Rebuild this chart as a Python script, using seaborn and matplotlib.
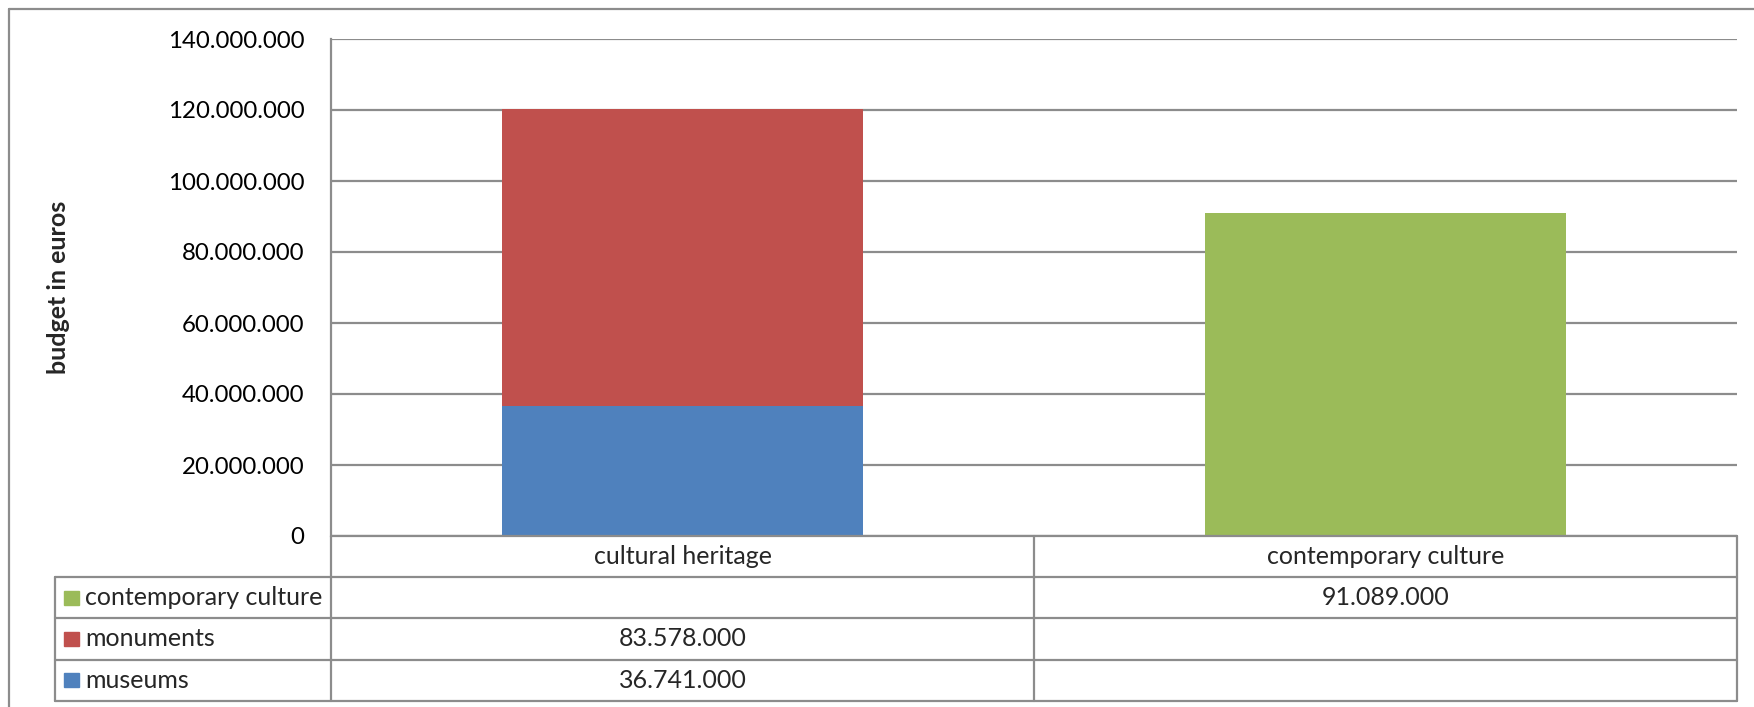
import numpy as np
import pandas as pd
import matplotlib
matplotlib.use("Agg")
import matplotlib.pyplot as plt
from matplotlib.ticker import FuncFormatter, MultipleLocator
from matplotlib.transforms import blended_transform_factory
from matplotlib.lines import Line2D
from matplotlib.patches import Rectangle
import seaborn as sns

# Budget data (euros)
categories = ["cultural heritage", "contemporary culture"]
series_names = ["museums", "monuments", "contemporary culture"]
museums = [36741000, 0]
monuments = [83578000, 0]
contemporary = [0, 91089000]
series_colors = ["#4F81BD", "#C0504D", "#9BBB59"]

sns.set_theme(style="white")
plt.rcParams["font.family"] = ["Lato", "DejaVu Sans"]

W, H = 1754, 707
AX_L, AX_R, AX_T, AX_B = 331, 1737, 39, 536
fig = plt.figure(figsize=(W / 100, H / 100), dpi=100)
ax = fig.add_axes([AX_L / W, 1 - AX_B / H, (AX_R - AX_L) / W, (AX_B - AX_T) / H])

grid_gray = "#8C8C8C"
line_w = 1.6
fs = 18

series_values = [museums, monuments, contemporary]
cumulative = np.cumsum(np.array(series_values, dtype=float), axis=0)

# Stacked bars: draw each cumulative layer from the top down
for i in range(len(series_names) - 1, -1, -1):
    df = pd.DataFrame({"category": categories, "value": cumulative[i]})
    sns.barplot(data=df, x="category", y="value", order=categories,
                color=series_colors[i], saturation=1, width=0.514,
                linewidth=0, ax=ax, zorder=3)

ax.set_xlim(-0.5, len(categories) - 0.5)
ax.set_ylim(0, 140_000_000)
ax.yaxis.set_major_locator(MultipleLocator(20_000_000))
ax.yaxis.set_major_formatter(FuncFormatter(lambda v, p: f"{int(v):,}".replace(",", ".")))
ax.grid(axis="y", color=grid_gray, linewidth=line_w)
ax.set_axisbelow(True)
ax.tick_params(axis="y", length=0, pad=19, labelsize=17.3, labelcolor="black")
ax.set_xticks([])
ax.set_xlabel("")
ax.set_ylabel("budget in euros", fontsize=fs, fontweight="bold")
ax.yaxis.set_label_coords((70 - AX_L) / (AX_R - AX_L), 0.5)
for side in ["top", "right", "bottom"]:
    ax.spines[side].set_visible(False)
ax.spines["left"].set_color(grid_gray)
ax.spines["left"].set_linewidth(line_w)

# Data table under the plot area
tr = blended_transform_factory(ax.transData, ax.transAxes)
ax_h = AX_B - AX_T
col_px = (AX_R - AX_L) / len(categories)

def xpx(px):
    return -0.5 + (px - AX_L) / col_px

row_h = 41.2 / ax_h
n_rows = len(series_names) + 1
row_edges = [-k * row_h for k in range(n_rows + 1)]
label_left = xpx(55)
col_edges = [-0.5 + k for k in range(len(categories) + 1)]

def tline(xs, ys):
    ax.add_line(Line2D(xs, ys, transform=tr, color=grid_gray,
                       linewidth=line_w, clip_on=False, zorder=5))

tline([col_edges[0], col_edges[-1]], [0, 0])
for y in row_edges[1:]:
    tline([label_left, col_edges[-1]], [y, y])
for x in col_edges:
    tline([x, x], [0, row_edges[-1]])
tline([label_left, label_left], [row_edges[1], row_edges[-1]])

# Header: category names
for j, cat in enumerate(categories):
    ax.text(j, row_edges[0] - row_h / 2, cat, transform=tr, ha="center",
            va="center", fontsize=fs, clip_on=False)

def fmt(v):
    return f"{int(v):,}".replace(",", ".")

# Series rows, top series first, each with its colour key
key_h = 14 / ax_h
key_w = 15 / col_px
for r, i in enumerate(range(len(series_names) - 1, -1, -1)):
    yc = row_edges[r + 1] - row_h / 2
    ax.add_patch(Rectangle((xpx(64), yc - key_h / 2), key_w, key_h,
                           transform=tr, color=series_colors[i],
                           clip_on=False, zorder=5))
    ax.text(xpx(85), yc, series_names[i], transform=tr,
            ha="left", va="center", fontsize=fs, clip_on=False)
    for j in range(len(categories)):
        v = series_values[i][j]
        if v:
            ax.text(j, yc, fmt(v), transform=tr, ha="center", va="center",
                    fontsize=fs, clip_on=False)

# Chart area border
fig.add_artist(Line2D([9 / W, 1], [1 - 9 / H, 1 - 9 / H], transform=fig.transFigure,
                      color=grid_gray, linewidth=line_w))
fig.add_artist(Line2D([9 / W, 9 / W], [0, 1 - 9 / H], transform=fig.transFigure,
                      color=grid_gray, linewidth=line_w))

fig.savefig("out.png", dpi=100)
